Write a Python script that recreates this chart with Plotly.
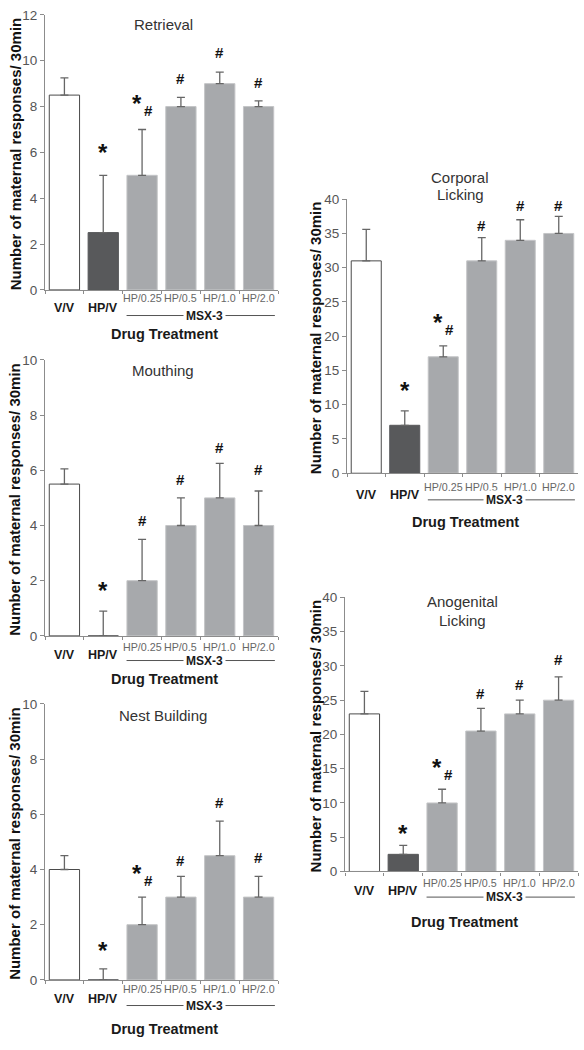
import plotly.graph_objects as go

categories = ["V/V", "HP/V", "HP/0.25", "HP/0.5", "HP/1.0", "HP/2.0"]

retrieval_mean = [8.5, 2.5, 5.0, 8.0, 9.0, 8.0]
retrieval_sem = [0.75, 2.5, 2.0, 0.4, 0.5, 0.25]
retrieval_star = [None, 6.1, 8.2, None, None, None]
retrieval_hash = [None, None, 7.8, 9.2, 10.3, 9.0]

mouthing_mean = [5.5, 0.0, 2.0, 4.0, 5.0, 4.0]
mouthing_sem = [0.55, 0.9, 1.5, 1.0, 1.25, 1.25]
mouthing_star = [None, 1.7, None, None, None, None]
mouthing_hash = [None, None, 4.15, 5.64, 6.8, 6.0]

nest_mean = [4.0, 0.0, 2.0, 3.0, 4.5, 3.0]
nest_sem = [0.5, 0.4, 1.0, 0.75, 1.25, 0.75]
nest_star = [None, 1.14, 3.93, None, None, None]
nest_hash = [None, None, 3.57, 4.3, 6.4, 4.4]

corporal_mean = [31.0, 7.0, 17.0, 31.0, 34.0, 35.0]
corporal_sem = [4.6, 2.1, 1.6, 3.4, 3.0, 2.5]
corporal_star = [None, 12.4, 22.3, None, None, None]
corporal_hash = [None, None, 20.9, 36.0, 39.0, 39.0]

anogenital_mean = [23.0, 2.5, 10.0, 20.5, 23.0, 25.0]
anogenital_sem = [3.3, 1.3, 2.0, 3.3, 2.0, 3.4]
anogenital_star = [None, 5.8, 15.4, None, None, None]
anogenital_hash = [None, None, 14.0, 25.9, 27.2, 30.8]

y_title = "Number of maternal responses/ 30min"
x_title = "Drug Treatment"
group_label = "MSX-3"

W, H = 584, 1050
FONT = "Liberation Sans, Arial, sans-serif"

fill_colors = ["#ffffff", "#58595b", "#a7a9ac", "#a7a9ac", "#a7a9ac", "#a7a9ac"]
line_colors = ["#4a4a4a", "#58595b", "#c4c5c7", "#c4c5c7", "#c4c5c7", "#c4c5c7"]


def px(x):
    return x / W


def py(y):
    return 1 - y / H


# panel layout: (title lines, means, sems, stars, hashes, ymax, dtick,
#   x0, x1, ytop, ybot, title line ys, ylabel_x, hp_lbl_y, vv_lbl_y, msx_y, drug_y, title_x)
panels = [
    (["Retrieval"], retrieval_mean, retrieval_sem, retrieval_star, retrieval_hash, 12, 2,
     45, 278, 8, 287, [18], 15, 295, 305, 313, 332, 163),
    (["Mouthing"], mouthing_mean, mouthing_sem, mouthing_star, mouthing_hash, 10, 2,
     45, 278, 358, 638, [369], 15, 649, 657, 663, 682, 163),
    (["Nest Building"], nest_mean, nest_sem, nest_star, nest_hash, 10, 2,
     45, 278, 707, 987, [719], 15, 996, 1006, 1013, 1037, 163),
    (["Corporal", "Licking"], corporal_mean, corporal_sem, corporal_star, corporal_hash, 40, 5,
     347, 578, 195, 473, [173, 190], 315, 487, 495, 500, 522, 460),
    (["Anogenital", "Licking"], anogenital_mean, anogenital_sem, anogenital_star, anogenital_hash, 40, 5,
     345, 578, 599, 877, [603, 622], 315, 889, 897, 903, 928, 462),
]

fig = go.Figure()
annotations = []
shapes = []
layout_axes = {}

for i, (titles, mean, sem, stars, hashes, ymax, dtick, x0, x1, ytop, ybot,
        title_ys, ylab_x, hp_y, vv_y, msx_y, drug_y, title_x) in enumerate(panels):
    n = i + 1
    xa = "x" if n == 1 else f"x{n}"
    ya = "y" if n == 1 else f"y{n}"
    fig.add_trace(go.Bar(
        x=categories, y=mean, xaxis=xa, yaxis=ya,
        marker=dict(color=fill_colors, line=dict(color=line_colors, width=1)),
        error_y=dict(type="data", symmetric=False, array=sem,
                     arrayminus=[0] * len(sem), color="#666666", thickness=1.3, width=4),
        hoverinfo="skip",
    ))
    xkey = "xaxis" if n == 1 else f"xaxis{n}"
    ykey = "yaxis" if n == 1 else f"yaxis{n}"
    layout_axes[xkey] = dict(
        domain=[px(x0), px(x1)], anchor=ya, type="category",
        categoryorder="array", categoryarray=categories,
        range=[-0.5, len(categories) - 0.5],
        showline=True, linecolor="#8c8c8c", linewidth=1.2,
        ticks="outside", tickson="boundaries", ticklen=3, tickcolor="#8c8c8c",
        showticklabels=False, showgrid=False, zeroline=False, fixedrange=True,
    )
    layout_axes[ykey] = dict(
        domain=[py(ybot), py(ytop)], anchor=xa, range=[0, ymax], dtick=dtick,
        showline=True, linecolor="#8c8c8c", linewidth=1.2,
        ticks="outside", ticklen=4, tickcolor="#8c8c8c",
        tickfont=dict(family=FONT, size=13.5, color="#555555"),
        showgrid=False, zeroline=False, fixedrange=True,
    )
    # panel title (one annotation per line)
    for t, ty in zip(titles, title_ys):
        annotations.append(dict(text=t, xref="paper", yref="paper",
                                x=px(title_x), y=py(ty), showarrow=False,
                                xanchor="center", yanchor="middle",
                                font=dict(family=FONT, size=15, color="#333333")))
    # y-axis title
    annotations.append(dict(text=f"<b>{y_title}</b>", xref="paper", yref="paper",
                            x=px(ylab_x), y=py((ytop + ybot) / 2 + 2), showarrow=False,
                            textangle=-90, xanchor="center", yanchor="middle",
                            font=dict(family=FONT, size=15, color="#111111")))
    # category labels
    for j, c in enumerate(categories):
        if j < 2:
            annotations.append(dict(text=f"<b>{c}</b>", xref=xa, yref="paper",
                                    x=c, y=py(vv_y), showarrow=False,
                                    xanchor="center", yanchor="middle",
                                    font=dict(family=FONT, size=12.5, color="#1a1a1a")))
        else:
            annotations.append(dict(text=c, xref=xa, yref="paper",
                                    x=c, y=py(hp_y), showarrow=False,
                                    xanchor="center", yanchor="middle",
                                    font=dict(family=FONT, size=10.7, color="#666666")))
    # group bracket line and label
    shapes.append(dict(type="line", xref=xa, yref="paper",
                       x0=2 - 0.4, x1=5 + 0.42, y0=py(msx_y), y1=py(msx_y),
                       line=dict(color="#555555", width=1)))
    annotations.append(dict(text=f"<b>{group_label}</b>", xref=xa, yref="paper",
                            x=3.6, y=py(msx_y), showarrow=False,
                            xanchor="center", yanchor="middle", bgcolor="#ffffff",
                            borderpad=2,
                            font=dict(family=FONT, size=12, color="#1a1a1a")))
    # x-axis title
    annotations.append(dict(text=f"<b>{x_title}</b>", xref=xa, yref="paper",
                            x=2.57, y=py(drug_y), showarrow=False,
                            xanchor="center", yanchor="middle",
                            font=dict(family=FONT, size=14.5, color="#1a1a1a")))
    # significance marks
    for j, c in enumerate(categories):
        both = stars[j] is not None and hashes[j] is not None
        if stars[j] is not None:
            annotations.append(dict(text="<b>*</b>", xref=xa, yref=ya,
                                    x=c, y=stars[j], showarrow=False,
                                    xanchor="center", yanchor="middle",
                                    xshift=-5 if both else 0, yshift=-2,
                                    font=dict(family=FONT, size=24, color="#111111")))
        if hashes[j] is not None:
            annotations.append(dict(text="<b>#</b>", xref=xa, yref=ya,
                                    x=c, y=hashes[j], showarrow=False,
                                    xanchor="center", yanchor="middle",
                                    xshift=6 if both else 0, yshift=1,
                                    font=dict(family=FONT, size=15, color="#111111")))

fig.update_layout(
    width=W, height=H, margin=dict(l=0, r=0, t=0, b=0),
    paper_bgcolor="#ffffff", plot_bgcolor="#ffffff",
    showlegend=False, bargap=0.22,
    annotations=annotations, shapes=shapes,
    **layout_axes,
)

fig.write_html("out.html", config={"displayModeBar": False},
               post_script="document.body.style.margin='0';document.body.style.overflow='hidden';")
